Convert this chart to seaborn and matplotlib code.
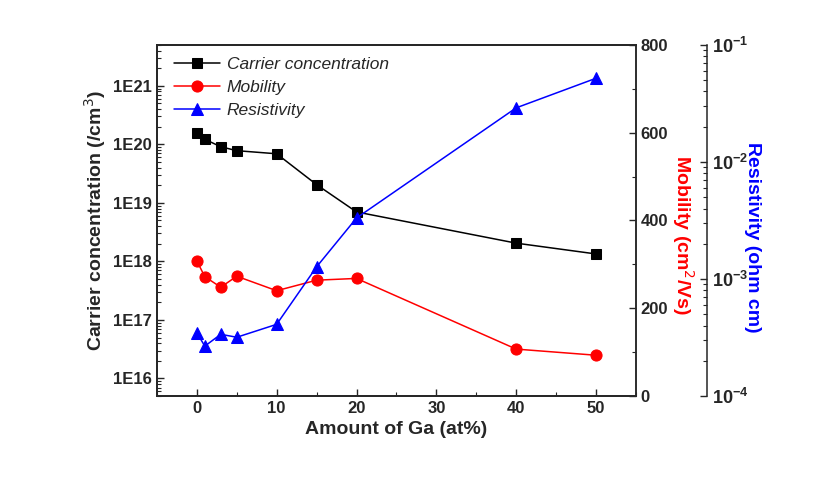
import numpy as np
import pandas as pd
import matplotlib
matplotlib.use("Agg")
import matplotlib.pyplot as plt
import matplotlib.ticker as mticker
import seaborn as sns

# datos
ga = [0, 1, 3, 5, 10, 15, 20, 40, 50]
carrier = [1.55e20, 1.22e20, 9.1e19, 7.8e19, 6.9e19, 2.05e19, 7.0e18, 2.05e18, 1.34e18]
mobility = [308, 272, 248, 273, 240, 264, 268, 107, 93]
resistivity = [3.48e-4, 2.67e-4, 3.37e-4, 3.18e-4, 4.10e-4, 1.27e-3, 3.32e-3, 2.9e-2, 5.19e-2]

df = pd.DataFrame({"ga": ga, "carrier": carrier, "mobility": mobility, "resistivity": resistivity})

sns.set_style("ticks")
plt.rcParams["font.family"] = ["Liberation Sans", "DejaVu Sans"]
plt.rcParams["xtick.direction"] = "in"
plt.rcParams["ytick.direction"] = "in"

fig = plt.figure(figsize=(8.39, 4.83), dpi=100)
ax = fig.add_axes([0.187, 0.180, 0.571, 0.727])
ax2 = ax.twinx()
ax3 = ax.twinx()
ax3.spines["right"].set_position(("axes", 1.148))

# carrier concentration (eje izquierdo, log)
sns.lineplot(data=df, x="ga", y="carrier", ax=ax, color="black", marker="s",
             markersize=7, markeredgecolor="black", linewidth=1.1, legend=False)
ax.set_yscale("log")
ax.set_ylim(5e15, 5e21)
ax.set_xlim(-5, 55)
ax.set_xticks([0, 10, 20, 30, 40, 50])
ax.xaxis.set_minor_locator(mticker.MultipleLocator(5))
ax.yaxis.set_major_locator(mticker.LogLocator(base=10, numticks=10))
ax.yaxis.set_minor_locator(mticker.LogLocator(base=10, subs=np.arange(2, 10), numticks=20))
ax.yaxis.set_minor_formatter(mticker.NullFormatter())
ax.yaxis.set_major_formatter(mticker.FuncFormatter(lambda v, p: f"1E{int(round(np.log10(v)))}"))

# mobility (eje derecho, lineal)
sns.lineplot(data=df, x="ga", y="mobility", ax=ax2, color="red", marker="o",
             markersize=8, markeredgecolor="red", linewidth=1.1, legend=False)
ax2.set_ylim(0, 800)
ax2.set_yticks([0, 200, 400, 600, 800])
ax2.yaxis.set_minor_locator(mticker.MultipleLocator(100))

# resistivity (tercer eje, log)
sns.lineplot(data=df, x="ga", y="resistivity", ax=ax3, color="blue", marker="^",
             markersize=9, markeredgecolor="blue", linewidth=1.1, legend=False)
ax3.set_yscale("log")
ax3.set_ylim(1e-4, 1e-1)
ax3.yaxis.set_major_locator(mticker.LogLocator(base=10, numticks=10))
ax3.yaxis.set_minor_locator(mticker.LogLocator(base=10, subs=np.arange(2, 10), numticks=20))
ax3.yaxis.set_minor_formatter(mticker.NullFormatter())
ax3.yaxis.set_major_formatter(mticker.FuncFormatter(
    lambda v, p: "10$^{\\mathregular{%d}}$" % int(round(np.log10(v)))))

for a in (ax, ax2, ax3):
    a.tick_params(which="major", length=5, width=1, labelsize=12)
    a.tick_params(which="minor", length=3, width=0.8)
    for lbl in a.get_xticklabels() + a.get_yticklabels():
        lbl.set_fontweight("bold")
    for s in a.spines.values():
        s.set_linewidth(1.1)
ax.tick_params(top=False, which="both")
ax3.tick_params(axis="y", labelsize=13)

ax.set_xlabel("Amount of Ga (at%)", fontsize=14, fontweight="bold")
ax.set_ylabel("Carrier concentration (/cm$^3$)", fontsize=14, fontweight="bold")
ax2.set_xlabel("")
ax3.set_xlabel("")
ax2.set_ylabel("Mobility (cm$^2$/Vs)", fontsize=14, fontweight="bold", color="red",
               rotation=-90, va="center", ha="center")
ax2.yaxis.set_label_coords(1.098, 0.459)
ax3.set_ylabel("Resistivity (ohm cm)", fontsize=14, fontweight="bold", color="blue",
               rotation=-90, va="center", ha="center")
ax3.yaxis.set_label_coords(1.244, 0.453)

handles = ax.get_lines()[:1] + ax2.get_lines()[:1] + ax3.get_lines()[:1]
labels = ["Carrier concentration", "Mobility", "Resistivity"]
ax.legend(handles, labels, loc="upper left", bbox_to_anchor=(0.015, 0.995), frameon=False,
          prop={"style": "italic", "size": 12.5}, handlelength=2.6, labelspacing=0.45,
          handletextpad=0.4, borderaxespad=0.2)

fig.savefig("out.png", dpi=100)
